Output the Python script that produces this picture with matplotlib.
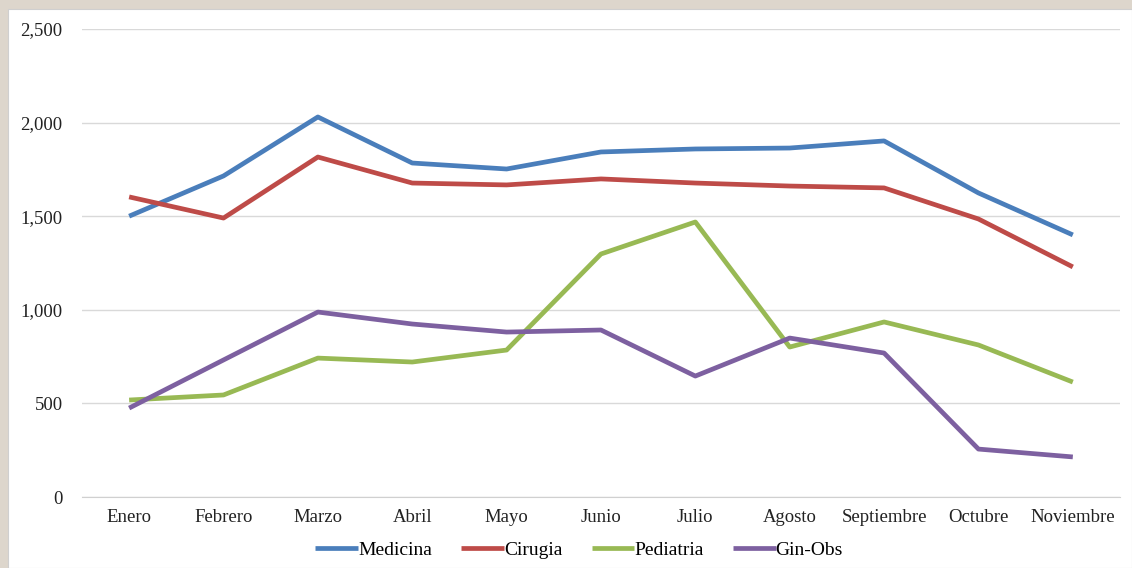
import matplotlib
matplotlib.use("Agg")
import matplotlib.pyplot as plt
from matplotlib.patches import Rectangle
from matplotlib.ticker import FuncFormatter

plt.rcParams["font.family"] = ["Liberation Serif", "DejaVu Serif"]

months = ["Enero", "Febrero", "Marzo", "Abril", "Mayo", "Junio", "Julio",
          "Agosto", "Septiembre", "Octubre", "Noviembre"]
medicina = [1500, 1715, 2030, 1784, 1752, 1843, 1859, 1864, 1902, 1624, 1400]
cirugia = [1603, 1490, 1816, 1677, 1667, 1699, 1677, 1661, 1651, 1485, 1229]
pediatria = [518, 545, 742, 721, 785, 1298, 1469, 801, 935, 812, 614]
gin_obs = [475, 732, 988, 924, 881, 892, 646, 849, 769, 256, 214]

series = [
    ("Medicina", medicina, "#4a7ebb"),
    ("Cirugia", cirugia, "#be4b48"),
    ("Pediatria", pediatria, "#98b954"),
    ("Gin-Obs", gin_obs, "#7d60a0"),
]

fig = plt.figure(figsize=(11.32, 5.68), dpi=100)
fig.patch.set_facecolor("#ddd6cc")
# white chart panel
fig.add_artist(Rectangle((0.007, 0.0), 0.993, 0.984, transform=fig.transFigure,
                         facecolor="white", edgecolor="#cfcfcf", lw=0.8, zorder=0))

ax = fig.add_axes([0.0724, 0.125, 0.917, 0.824])
ax.set_facecolor("none")

x = range(len(months))
for name, vals, color in series:
    ax.plot(x, vals, color=color, lw=3.4, label=name, solid_joinstyle="round",
            solid_capstyle="butt")

ax.set_xlim(-0.5, len(months) - 0.5)
ax.set_ylim(0, 2500)
ax.set_yticks([0, 500, 1000, 1500, 2000, 2500])
ax.yaxis.set_major_formatter(FuncFormatter(lambda v, p: f"{int(v):,}"))
ax.set_xticks(list(x))
ax.set_xticklabels(months)

ax.grid(axis="y", color="#d9d9d9", lw=1)
ax.set_axisbelow(True)
for side in ["top", "right", "left"]:
    ax.spines[side].set_visible(False)
ax.spines["bottom"].set_color("#d0d0d0")
ax.tick_params(axis="both", length=0, labelsize=13.5, colors="#222222")
ax.tick_params(axis="y", pad=14)
ax.tick_params(axis="x", pad=9)

ax.legend(loc="upper center", bbox_to_anchor=(0.479, -0.058), ncol=4,
          frameon=False, fontsize=14, handlelength=2.2, handletextpad=0.0,
          columnspacing=1.5)

fig.savefig("out.png", dpi=100, facecolor=fig.get_facecolor())
